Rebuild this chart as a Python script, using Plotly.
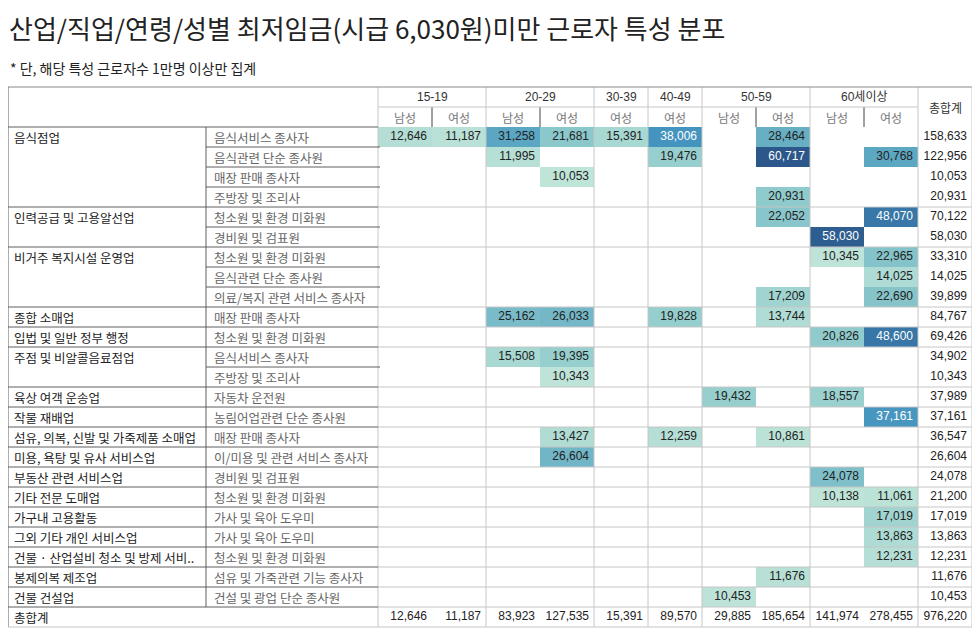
import plotly.graph_objects as go

# ---- data ----
age_groups = ["15-19", "20-29", "30-39", "40-49", "50-59", "60세이상"]
group_sexes = [["남성", "여성"], ["남성", "여성"], ["여성"], ["여성"], ["남성", "여성"], ["남성", "여성"]]

industries = ["음식점업", "인력공급 및 고용알선업", "비거주 복지시설 운영업", "종합 소매업",
              "입법 및 일반 정부 행정", "주점 및 비알콜음료점업", "육상 여객 운송업", "작물 재배업",
              "섬유, 의복, 신발 및 가죽제품 소매업", "미용, 욕탕 및 유사 서비스업", "부동산 관련 서비스업",
              "기타 전문 도매업", "가구내 고용활동", "그외 기타 개인 서비스업",
              "건물 · 산업설비 청소 및 방제 서비..", "봉제의복 제조업", "건물 건설업"]
industry_rows = [4, 2, 3, 1, 1, 2, 1, 1, 1, 1, 1, 1, 1, 1, 1, 1, 1]

occupations = ["음식서비스 종사자", "음식관련 단순 종사원", "매장 판매 종사자", "주방장 및 조리사",
               "청소원 및 환경 미화원", "경비원 및 검표원",
               "청소원 및 환경 미화원", "음식관련 단순 종사원", "의료/복지 관련 서비스 종사자",
               "매장 판매 종사자", "청소원 및 환경 미화원",
               "음식서비스 종사자", "주방장 및 조리사",
               "자동차 운전원", "농림어업관련 단순 종사원", "매장 판매 종사자",
               "이/미용 및 관련 서비스 종사자", "경비원 및 검표원", "청소원 및 환경 미화원",
               "가사 및 육아 도우미", "가사 및 육아 도우미", "청소원 및 환경 미화원",
               "섬유 및 가죽관련 기능 종사자", "건설 및 광업 단순 종사원"]

N = None
# columns: 15-19 남/여, 20-29 남/여, 30-39 여, 40-49 여, 50-59 남/여, 60세이상 남/여
values = [
    [12646, 11187, 31258, 21681, 15391, 38006, N, 28464, N, N],
    [N, N, 11995, N, N, 19476, N, 60717, N, 30768],
    [N, N, N, 10053, N, N, N, N, N, N],
    [N, N, N, N, N, N, N, 20931, N, N],
    [N, N, N, N, N, N, N, 22052, N, 48070],
    [N, N, N, N, N, N, N, N, 58030, N],
    [N, N, N, N, N, N, N, N, 10345, 22965],
    [N, N, N, N, N, N, N, N, N, 14025],
    [N, N, N, N, N, N, N, 17209, N, 22690],
    [N, N, 25162, 26033, N, 19828, N, 13744, N, N],
    [N, N, N, N, N, N, N, N, 20826, 48600],
    [N, N, 15508, 19395, N, N, N, N, N, N],
    [N, N, N, 10343, N, N, N, N, N, N],
    [N, N, N, N, N, N, 19432, N, 18557, N],
    [N, N, N, N, N, N, N, N, N, 37161],
    [N, N, N, 13427, N, 12259, N, 10861, N, N],
    [N, N, N, 26604, N, N, N, N, N, N],
    [N, N, N, N, N, N, N, N, 24078, N],
    [N, N, N, N, N, N, N, N, 10138, 11061],
    [N, N, N, N, N, N, N, N, N, 17019],
    [N, N, N, N, N, N, N, N, N, 13863],
    [N, N, N, N, N, N, N, N, N, 12231],
    [N, N, N, N, N, N, N, 11676, N, N],
    [N, N, N, N, N, N, 10453, N, N, N],
]
row_totals = [158633, 122956, 10053, 20931, 70122, 58030, 33310, 14025, 39899, 84767, 69426,
              34902, 10343, 37989, 37161, 36547, 26604, 24078, 21200, 17019, 13863, 12231,
              11676, 10453]
col_totals = [12646, 11187, 83923, 127535, 15391, 89570, 29885, 185654, 141974, 278455]
grand_total = 976220

# ---- layout (page pixel space; the page body has an 8px margin) ----
W, H = 980, 634
PAGE_OFF = 8
X0, X_OCC, X_DATA, COL_W, X_RIGHT = 8, 206, 378, 54, 972
Y_TOP, HEAD_H, ROW_H = 87, 20, 20
KR = "Noto Sans CJK KR"
NUM = "Liberation Sans, Noto Sans CJK KR"
DARK, LIGHT = "#5e5e5e", "#c6c6c6"

ncols = len(values[0])
nrows = len(values)
x_edges = [X_DATA + COL_W * i for i in range(ncols + 1)]
x_tot = x_edges[-1]
y_data = Y_TOP + 2 * HEAD_H
y_edges = [y_data + ROW_H * i for i in range(nrows + 1)]
y_bottom = y_edges[-1] + ROW_H

fig = go.Figure()

fig.add_trace(go.Heatmap(
    x=x_edges, y=y_edges, z=values,
    zmin=10000, zmax=60717,
    colorscale=[[0, "#bfe4d8"], [0.2, "#93cdcd"], [0.4, "#5ea9c2"], [0.55, "#4494bf"],
                [0.75, "#3877a8"], [1, "#2b578a"]],
    showscale=False, hoverinfo="skip",
))

# number labels (right aligned in cells)
tx, ty, tt, tc = [], [], [], []
for r, row in enumerate(values):
    yc = (y_edges[r] + y_edges[r + 1]) / 2
    for c, v in enumerate(row):
        if v is None:
            continue
        tx.append(x_edges[c + 1] - 5)
        ty.append(yc)
        tt.append(f"{v:,}")
        tc.append("white" if v >= 35000 else "#222")
    tx.append(X_RIGHT - 5)
    ty.append(yc)
    tt.append(f"{row_totals[r]:,}")
    tc.append("#222")
y_tot_c = y_edges[-1] + ROW_H / 2
for c, v in enumerate(col_totals + [grand_total]):
    tx.append((x_edges + [X_RIGHT])[c + 1] - 5)
    ty.append(y_tot_c)
    tt.append(f"{v:,}")
    tc.append("#222")

fig.add_trace(go.Scatter(
    x=tx, y=ty, text=tt, mode="text", textposition="middle left",
    textfont=dict(family=NUM, size=12, color=tc), hoverinfo="skip", showlegend=False,
))

def line(x1, y1, x2, y2, color, w=1):
    fig.add_shape(type="line", x0=x1, y0=y1, x1=x2, y1=y2, line=dict(color=color, width=w), layer="above")

# header
sub_x = X_DATA
for g, sexes in zip(age_groups, group_sexes):
    gw = COL_W * len(sexes)
    fig.add_annotation(x=sub_x + gw / 2, y=Y_TOP + HEAD_H / 2, text=g, showarrow=False,
                       font=dict(family=NUM, size=12, color="#333"))
    for i, s in enumerate(sexes):
        fig.add_annotation(x=sub_x + COL_W * (i + 0.5), y=Y_TOP + HEAD_H * 1.5, text=s, showarrow=False,
                           font=dict(family=KR, size=12, color="#777"))
        if i > 0:
            line(sub_x + COL_W * i, Y_TOP + HEAD_H, sub_x + COL_W * i, y_data, "#444")
    line(sub_x, Y_TOP, sub_x, y_bottom, LIGHT)
    sub_x += gw
line(x_tot, Y_TOP, x_tot, y_bottom, LIGHT)
fig.add_annotation(x=(x_tot + X_RIGHT) / 2, y=Y_TOP + HEAD_H, text="총합계", showarrow=False,
                   font=dict(family=KR, size=12, color="#333"))
line(X_DATA, Y_TOP + HEAD_H, x_tot, Y_TOP + HEAD_H, LIGHT)

# left columns text + row lines
r = 0
for name, span in zip(industries, industry_rows):
    fig.add_annotation(x=X0 + 4, y=y_edges[r] + ROW_H / 2, text=name, showarrow=False,
                       xanchor="left", font=dict(family=KR, size=12.5, color="#222"))
    for k in range(span):
        fig.add_annotation(x=X_OCC + 6, y=y_edges[r + k] + ROW_H / 2, text=occupations[r + k],
                           showarrow=False, xanchor="left", font=dict(family=KR, size=12.5, color="#666"))
        if k > 0:
            line(X_OCC, y_edges[r + k], X_DATA + 2, y_edges[r + k], DARK)
    if r > 0:
        line(X0, y_edges[r], X_DATA, y_edges[r], DARK)
        line(X_DATA, y_edges[r], X_RIGHT, y_edges[r], LIGHT)
    r += span
fig.add_annotation(x=X0 + 4, y=y_tot_c, text="총합계", showarrow=False, xanchor="left",
                   font=dict(family=KR, size=12.5, color="#222"))

line(X0, y_edges[-1], X_DATA, y_edges[-1], DARK)
line(X_DATA, y_edges[-1], X_RIGHT, y_edges[-1], LIGHT)
line(X_OCC, y_data, X_OCC, y_edges[-1], DARK)
line(X0, y_data, X_DATA, y_data, DARK)

# outer border
line(X0, Y_TOP, X_RIGHT, Y_TOP, "#888")
line(X0, Y_TOP, X0, y_bottom, DARK)
line(X_RIGHT, Y_TOP, X_RIGHT, y_bottom, LIGHT)
line(X0, y_bottom, X_RIGHT, y_bottom, LIGHT)

# title (paper coordinates, page y -> paper y)
def page_to_paper_y(y):
    return 1 - (y - PAGE_OFF) / H

fig.add_annotation(xref="paper", yref="paper", x=0, y=1,
                   text="산업/직업/연령/성별 최저임금(시급 6,030원)미만 근로자 특성 분포",
                   showarrow=False, xanchor="left", yanchor="top", borderpad=0,
                   font=dict(family=KR, size=26, color="#222"))
fig.add_annotation(xref="paper", yref="paper", x=0, y=page_to_paper_y(68),
                   text="* 단, 해당 특성 근로자수 1만명 이상만 집계",
                   showarrow=False, xanchor="left", yanchor="middle",
                   font=dict(family=KR, size=14, color="#222"))

fig.update_layout(
    width=W, height=H, margin=dict(l=0, r=0, t=0, b=0),
    paper_bgcolor="white", plot_bgcolor="white", showlegend=False,
    xaxis=dict(range=[PAGE_OFF, W + PAGE_OFF], visible=False, fixedrange=True),
    yaxis=dict(range=[H + PAGE_OFF, PAGE_OFF], visible=False, fixedrange=True),
)

fig.write_html("out.html")
